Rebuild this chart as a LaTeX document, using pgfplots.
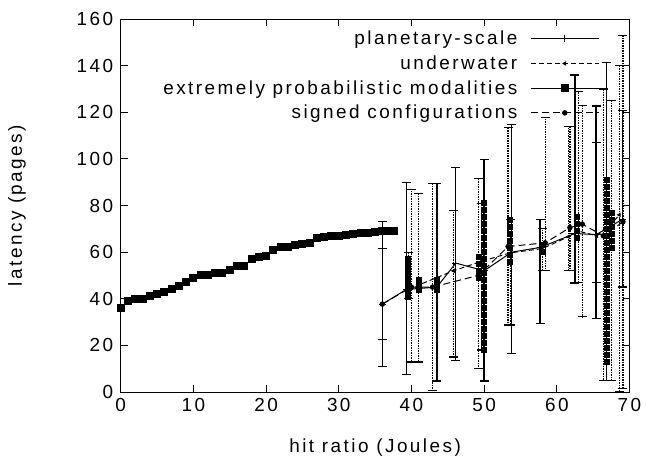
\documentclass[border=0pt]{standalone}
\usepackage{fontspec}
\setmainfont{Liberation Sans}[LetterSpace=13]
\usepackage{pgfplots}
\pgfplotsset{compat=1.18}
\usepackage{pgfplotstable}
\newcommand{\myfont}{\fontsize{19}{21}\selectfont}

% extremely probabilistic modalities (left part)
\pgfplotstableread{
x y
0 36
1 39
2 40
3 40
4 41
5 42
6 43
7 44
8 45.5
9 47
10 49
11 50
12 50
13 51
14 51
15 52.5
16 54
17 54
18 57
19 58
20 58.5
21 61
22 62
23 62
24 63
25 63.5
26 64
27 66
28 66.5
29 67
30 67
31 67.5
32 67.8
33 68
34 68
35 68.5
36 69
37 69
37.6 69
}\tableQ

% extra squares in the error-bar region
\pgfplotstableread{
x y
39.5 41
39.5 43
39.5 45
39.5 47
39.5 49
39.5 51
39.5 53
39.5 55
39.5 57
41.0 44
41.0 46
41.0 48
43.5 44
43.5 46
43.5 48
49.3 49
49.3 52
49.3 55
49.3 58
50.0 18
50.0 21
50.0 24
50.0 27
50.0 30
50.0 33
50.0 36
50.0 39
50.0 42
50.0 45
50.0 48
50.0 51
50.0 54
50.0 57
50.0 60
50.0 63
50.0 66
50.0 69
50.0 72
50.0 75
50.0 78
50.0 81
53.5 56
53.5 59
53.5 62
53.5 65
53.5 68
53.5 71
53.5 74
58.0 60
58.0 63
62.7 66
62.7 69
62.7 72
62.7 75
66.8 13
66.8 16
66.8 19
66.8 22
66.8 25
66.8 28
66.8 31
66.8 34
66.8 37
66.8 40
66.8 43
66.8 46
66.8 49
66.8 52
66.8 55
66.8 58
66.8 61
66.8 64
66.8 67
66.8 70
66.8 73
66.8 76
66.8 79
66.8 82
66.8 85
66.8 88
66.8 91
67.5 62
67.5 65
67.5 68
67.5 71
67.5 74
67.5 77
}\tableQx

% planetary-scale
\pgfplotstableread{
x y ep em
36.0 37.7 35.3 26.7
39.3 44 45.7 36.5
43.5 45 44.3 40.3
46.1 55.3 40.9 41.7
50.0 52 47.8 47.3
53.8 60 54.9 43.6
57.7 62 12 32.5
62.5 68 68 21.2
65.4 67.5 55.2 35.9
66.8 70 71.4 65
69.0 74 46.6 29
}\tableP

% underwater
\pgfplotstableread{
x y ep em
39.6 43 17 3
41.0 45.9 39.1 33
45.8 52 26 37
49.6 56 25 38
53.6 59.7 14.3 31
58.0 61.5 8.5 9.5
61.6 66.6 47.4 14.6
63.0 69 60 22
65.5 67 40 20
67.5 72 53 67
68.6 76 64 76
}\tableU

% signed configurations
\pgfplotstableread{
x y ep em
36.0 37.7 23.7 15.2
40.0 45 41.9 32.1
42.9 45 44.3 44.4
49.2 50 41.5 40
53.3 62.4 51 33.7
58.4 64 53.8 12
61.8 70.5 43.5 18.5
63.5 72 50.8 39.7
66.4 67 63 62
69.1 73 80 71.5
}\tableS

\begin{document}
\begin{tikzpicture}
\begin{axis}[
  scale only axis, width=508.8bp, height=373bp,
  xmin=0, xmax=70, ymin=0, ymax=160,
  xtick={0,10,...,70}, ytick={0,20,...,160},
  tick align=inside, major tick length=7bp,
  axis line style={line width=0.9bp},
  every tick/.style={black, line width=0.8bp},
  xlabel={hit ratio (Joules)}, ylabel={latency (pages)},
  /pgf/number format/assume math mode=true,
  tick label style={font=\myfont},
  label style={font=\myfont},
  xticklabel style={yshift=-3bp},
  yticklabel style={xshift=-4bp},
  xlabel style={at={(axis description cs:0.5,-0.15)}, anchor=center},
  ylabel style={at={(axis description cs:-0.204,0.5)}, anchor=center},
  legend style={font=\myfont, draw=none, fill=none, at={(1,1)}, anchor=north east,
    xshift=-29bp, yshift=-9bp, row sep=5.5bp, column sep=11bp, inner sep=1bp},
  legend plot pos=right, legend cell align=right,
  legend image code/.code={\draw[mark repeat=2,mark phase=2,#1] plot coordinates {(0bp,0bp) (34bp,0bp) (68bp,0bp)};},
  error bars/error bar style={line width=1.3bp},
  error bars/error mark options={rotate=90, mark size=4.5bp, line width=1.2bp},
]
\addplot[black, line width=1bp, mark=+, mark size=3.5bp,
  error bars/.cd, y dir=both, y explicit]
  table[x=x, y=y, y error plus=ep, y error minus=em] {\tableP};
\addlegendentry{planetary-scale}
\addplot[black, line width=1bp, dash pattern=on 5bp off 3bp, mark=triangle*, mark options={solid, rotate=90, scale=0.8},
  error bars/.cd, y dir=both, y explicit, error bar style={dash pattern=on 1.5bp off 1bp}]
  table[x=x, y=y, y error plus=ep, y error minus=em] {\tableU};
\addlegendentry{underwater}
\addplot[black, line width=1bp, mark=square*, mark size=3.5bp, mark options={solid}]
  table[x=x, y=y] {\tableQ};
\addlegendentry{extremely probabilistic modalities}
\addplot[black, line width=1bp, dash pattern=on 7bp off 4bp, mark=*, mark size=2.2bp, mark options={solid},
  error bars/.cd, y dir=both, y explicit, error bar style={dash pattern=on 1.5bp off 1bp}]
  table[x=x, y=y, y error plus=ep, y error minus=em] {\tableS};
\addlegendentry{signed configurations}
\addplot[black, only marks, mark=square*, mark size=2.5bp, forget plot] table[x=x, y=y] {\tableQx};
\end{axis}
\pgfresetboundingbox
\path[use as bounding box] ([shift={(-120.7bp,-74bp)}]current axis.south west) rectangle ([shift={(19.5bp,19bp)}]current axis.north east);
\end{tikzpicture}
\end{document}
